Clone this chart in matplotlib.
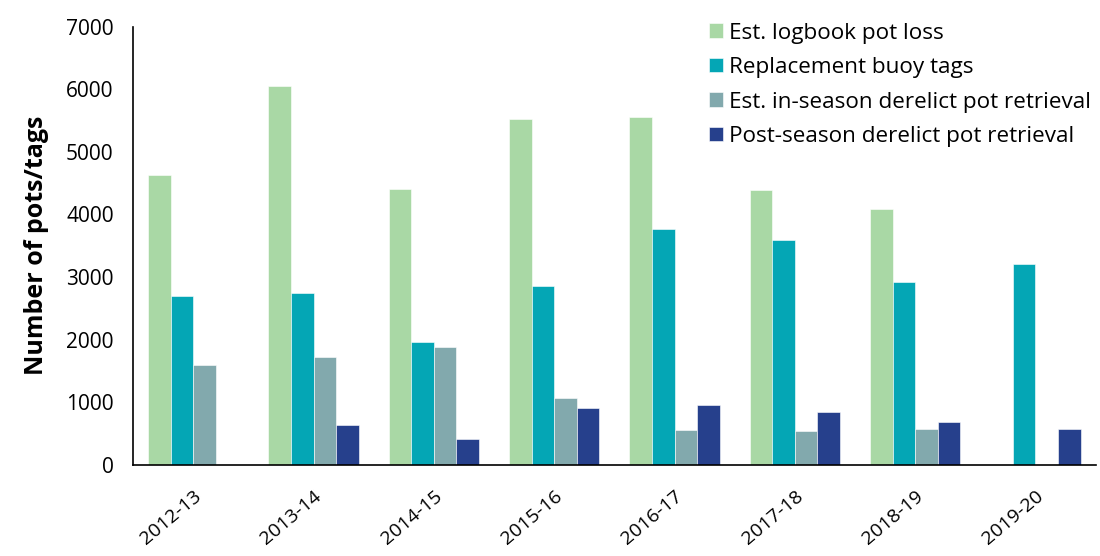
import numpy as np
import matplotlib.pyplot as plt

plt.rcParams['font.family'] = ['Open Sans', 'DejaVu Sans']

seasons = ['2012-13', '2013-14', '2014-15', '2015-16', '2016-17', '2017-18', '2018-19', '2019-20']
logbook_loss = [4625, 6055, 4405, 5530, 5550, 4385, 4090, np.nan]
buoy_tags = [2700, 2745, 1955, 2850, 3775, 3585, 2915, 3215]
inseason_retrieval = [1595, 1725, 1875, 1065, 550, 535, 575, np.nan]
postseason_retrieval = [np.nan, 640, 410, 910, 950, 845, 680, 575]

series = [
    ('Est. logbook pot loss', logbook_loss, '#A9D8A5'),
    ('Replacement buoy tags', buoy_tags, '#04A6B5'),
    ('Est. in-season derelict pot retrieval', inseason_retrieval, '#82A9AD'),
    ('Post-season derelict pot retrieval', postseason_retrieval, '#26408C'),
]

fig = plt.figure(figsize=(11, 5.56), dpi=100)
ax = fig.add_axes([0.121, 0.164, 0.875, 0.788])

x = np.arange(len(seasons))
w = 0.1875
for i, (name, vals, col) in enumerate(series):
    ax.bar(x + (i - 1.5) * w, vals, w, color=col, label=name,
           edgecolor='white', linewidth=0.4)

ax.set_xlim(-0.5, len(seasons) - 0.5)
ax.set_ylim(0, 7000)
ax.set_yticks(range(0, 7001, 1000))
ax.set_xticks(x)
ax.set_xticklabels(seasons, rotation=40, ha='right', rotation_mode='anchor', fontsize=14)
ax.tick_params(axis='y', labelsize=15, length=0, pad=14)
ax.tick_params(axis='x', length=0, pad=16)
ax.set_ylabel('Number of pots/tags', fontsize=18, fontweight='bold', labelpad=12)

for s in ['top', 'right']:
    ax.spines[s].set_visible(False)
for s in ['left', 'bottom']:
    ax.spines[s].set_color('black')
    ax.spines[s].set_linewidth(1.2)

ax.legend(loc='upper right', bbox_to_anchor=(1.005, 1.03), frameon=False, fontsize=16.2,
          handlelength=0.6, handleheight=0.6, handletextpad=0.3, labelspacing=0.6,
          borderaxespad=0)

fig.savefig('out.png', dpi=100)
